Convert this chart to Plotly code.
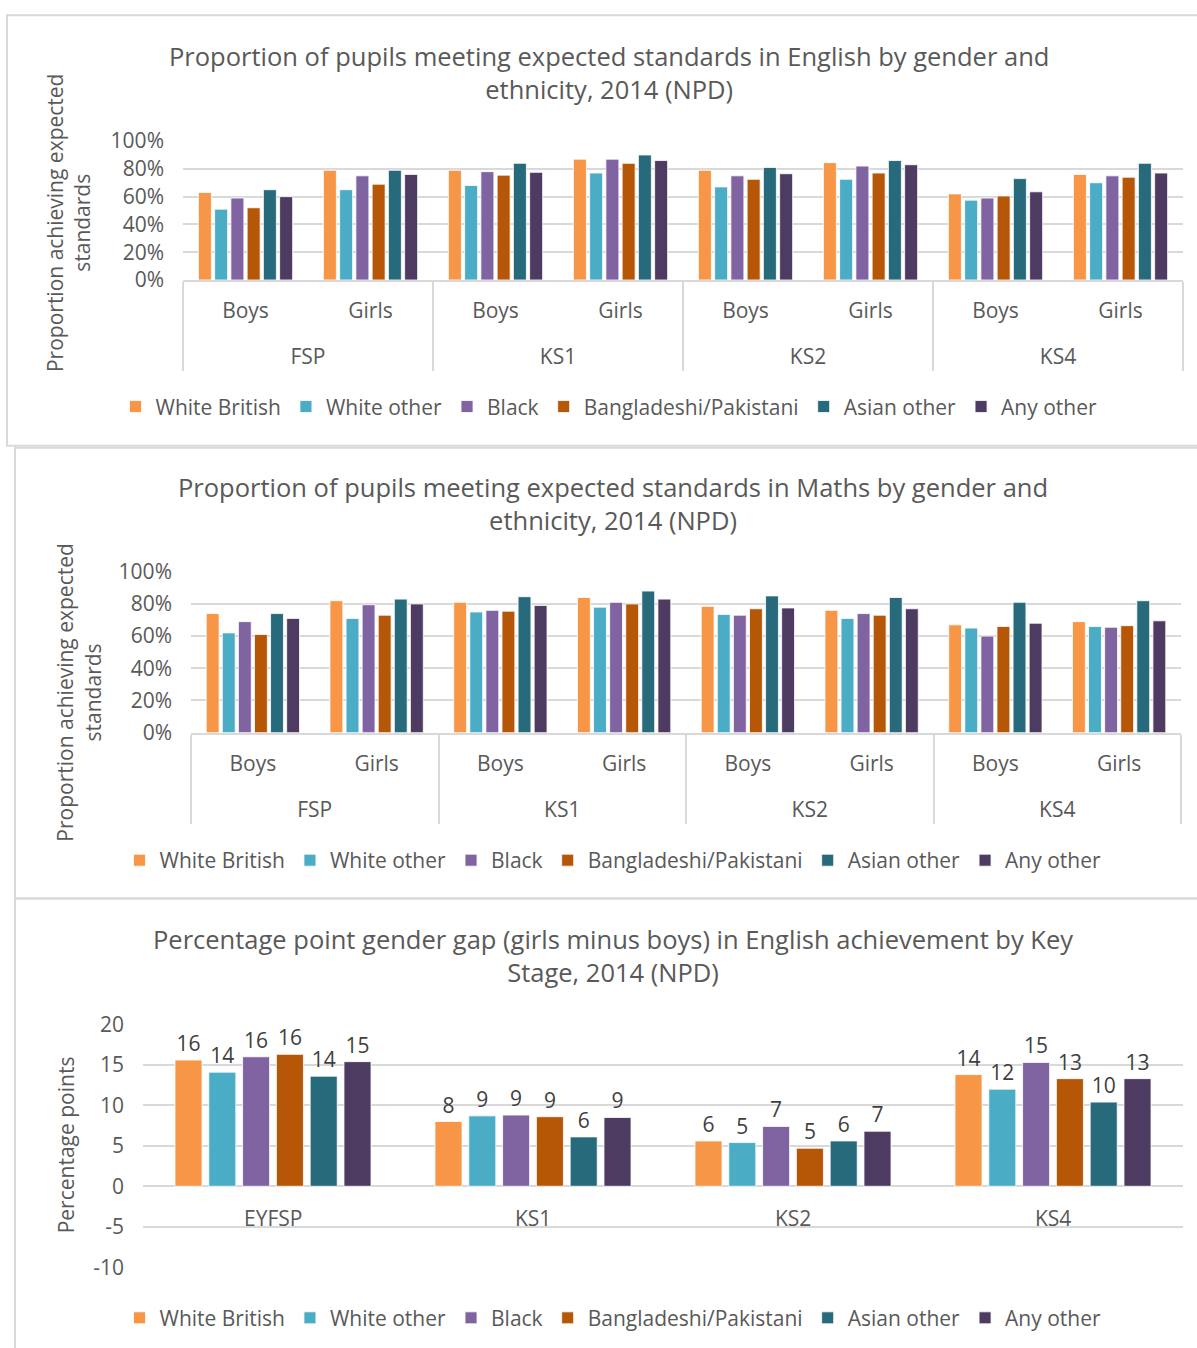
import plotly.graph_objects as go

W, H = 1197, 1348

# ---------------- data ----------------
ethnicities = ["White British", "White other", "Black", "Bangladeshi/Pakistani", "Asian other", "Any other"]
colors = ["#F79646", "#4BACC6", "#8064A2", "#B65708", "#276A7C", "#4D3B62"]

stages = ["FSP", "FSP", "KS1", "KS1", "KS2", "KS2", "KS4", "KS4"]
genders = ["Boys", "Girls", "Boys", "Girls", "Boys", "Girls", "Boys", "Girls"]

# English, % meeting expected standards (order: FSP B, FSP G, KS1 B, KS1 G, KS2 B, KS2 G, KS4 B, KS4 G)
eng_white_british = [63, 79, 79, 87, 79, 84.5, 62, 76]
eng_white_other   = [51, 65, 68, 77, 67, 72.5, 57.5, 70]
eng_black         = [59, 75, 78, 87, 75, 82, 59, 75]
eng_bang_pak      = [52, 69, 75.5, 84, 72.5, 77, 60.5, 74]
eng_asian_other   = [65, 79, 84, 90, 81, 86, 73, 84]
eng_any_other     = [60, 76, 77.5, 86, 76.5, 83, 63.5, 77]

# Maths
mat_white_british = [74, 82, 81, 84, 78.5, 76, 67, 69]
mat_white_other   = [62, 71, 75, 78, 73.5, 71, 65, 66]
mat_black         = [69, 79.5, 76, 81, 73, 74, 60, 65.5]
mat_bang_pak      = [61, 73, 75.5, 80, 77, 73, 66, 66.5]
mat_asian_other   = [74, 83, 84.5, 88, 85, 84, 81, 82]
mat_any_other     = [71, 80, 79, 83, 77.5, 77, 68, 69.5]

# Gender gap (girls minus boys), percentage points
gap_stages = ["EYFSP", "KS1", "KS2", "KS4"]
gap_white_british = [15.6, 8.0, 5.6, 13.8]
gap_white_other   = [14.1, 8.7, 5.4, 12.0]
gap_black         = [16.0, 8.8, 7.4, 15.3]
gap_bang_pak      = [16.3, 8.6, 4.7, 13.3]
gap_asian_other   = [13.6, 6.1, 5.6, 10.4]
gap_any_other     = [15.4, 8.5, 6.8, 13.3]

gap_tickvals = [-10, -5, 0, 5, 10, 15, 20]
gap_ticktext = ["-10", "-5", "0", "5", "10", "15", "20"]

eng = [eng_white_british, eng_white_other, eng_black, eng_bang_pak, eng_asian_other, eng_any_other]
mat = [mat_white_british, mat_white_other, mat_black, mat_bang_pak, mat_asian_other, mat_any_other]
gap = [gap_white_british, gap_white_other, gap_black, gap_bang_pak, gap_asian_other, gap_any_other]

titles = [
    "Proportion of pupils meeting expected standards in English by gender and<br>ethnicity, 2014 (NPD)",
    "Proportion of pupils meeting expected standards in Maths by gender and<br>ethnicity, 2014 (NPD)",
    "Percentage point gender gap (girls minus boys) in English achievement by Key<br>Stage, 2014 (NPD)",
]

# ---------------- layout helpers ----------------
def fx(p):
    return p / W

def fy(p):
    q = (p - 13.8) / 0.98
    return 1 - q / H

FONT = "Open Sans, Segoe UI, Calibri, sans-serif"
TXT = "#595959"
GRID = "#D9D9D9"
FS = 21

# outer-level labels get an empty first line so they sit lower, as in the original
stage_labels = ["<br>" + s for s in stages]

fig = go.Figure()

line = dict(color="rgba(255,255,255,0.8)", width=1)
for i, name in enumerate(ethnicities):
    fig.add_trace(go.Bar(x=[stage_labels, genders], y=eng[i], name=name, marker_color=colors[i],
                         marker_line=line, xaxis="x", yaxis="y", legend="legend"))
for i, name in enumerate(ethnicities):
    fig.add_trace(go.Bar(x=[stage_labels, genders], y=mat[i], name=name, marker_color=colors[i],
                         marker_line=line, xaxis="x2", yaxis="y2", legend="legend2"))
for i, name in enumerate(ethnicities):
    fig.add_trace(go.Bar(
        x=gap_stages, y=gap[i], name=name, marker_color=colors[i], marker_line=line,
        texttemplate="%{y:.0f}", textposition="outside", cliponaxis=False,
        textfont=dict(size=FS, color="#404040", family=FONT),
        xaxis="x3", yaxis="y3", legend="legend3"))

tickfont = dict(size=FS, color=TXT, family=FONT)

def xcat(dom, anchor):
    return dict(domain=[fx(dom[0]), fx(dom[1])], anchor=anchor, type="multicategory",
                showline=True, linecolor=GRID, linewidth=2, showdividers=True,
                dividercolor=GRID, dividerwidth=2, tickfont=tickfont, ticks="",
                ticklabelstandoff=11, showgrid=False)

def ypct(dom, anchor):
    return dict(domain=[fy(dom[1]), fy(dom[0])], anchor=anchor, range=[0, 100],
                dtick=20, ticksuffix="%", showgrid=True, gridcolor=GRID, gridwidth=2,
                zeroline=False, showline=False, tickfont=tickfont, ticklabelstandoff=18)

layout = dict(
    width=W, height=H, margin=dict(l=0, r=0, t=0, b=0),
    paper_bgcolor="white", plot_bgcolor="white",
    barmode="group", bargap=0.22, bargroupgap=0.2,
    font=dict(family=FONT, color=TXT),
    xaxis=xcat((183, 1183), "y"),
    yaxis=ypct((140, 279), "x"),
    xaxis2=xcat((191, 1181), "y2"),
    yaxis2=ypct((571, 732), "x2"),
    xaxis3=dict(domain=[fx(143), fx(1183)], anchor="y3", showticklabels=False,
                showline=False, showgrid=False, ticks=""),
    yaxis3=dict(domain=[fy(1267), fy(1024)], anchor="x3", range=[-10, 20],
                tickvals=gap_tickvals, ticktext=gap_ticktext,
                showgrid=True, gridcolor=GRID, gridwidth=2, zeroline=True,
                zerolinecolor=GRID, zerolinewidth=2, tickfont=tickfont,
                ticklabelstandoff=18),
)

for lg, ypix, xpix in [("legend", 406, 609), ("legend2", 860, 613), ("legend3", 1318, 613)]:
    layout[lg] = dict(orientation="h", x=fx(xpix), xanchor="center", y=fy(ypix),
                      yanchor="middle", font=dict(size=FS, color=TXT, family=FONT),
                      bgcolor="rgba(0,0,0,0)", itemclick=False, itemwidth=30)

fig.update_layout(**layout)

# panel frames
for (x0, y0, x1, y1) in [(7, 14, 1199, 445), (15, 447, 1199, 898), (15, 898, 1199, 1352)]:
    fig.add_shape(type="rect", xref="paper", yref="paper",
                  x0=fx(x0), x1=fx(x1), y0=fy(y1), y1=fy(y0),
                  line=dict(color="#D9D9D9", width=2), layer="below")

# titles
for t, ypix, xpix in zip(titles, [71, 503, 955], [609, 613, 613]):
    fig.add_annotation(text=t, xref="paper", yref="paper", x=fx(xpix), y=fy(ypix),
                       xanchor="center", yanchor="middle", showarrow=False,
                       font=dict(size=25.5, color=TXT, family=FONT))

# y-axis titles
for t, xpix, ypix in [("Proportion achieving expected<br>standards", 68, 222),
                      ("Proportion achieving expected<br>standards", 79, 692),
                      ("Percentage points", 66, 1145)]:
    fig.add_annotation(text=t, xref="paper", yref="paper", x=fx(xpix), y=fy(ypix),
                       xanchor="center", yanchor="middle", showarrow=False, textangle=-90,
                       font=dict(size=FS, color=TXT, family=FONT))

# category labels for the gap panel (sit just under zero line)
for c in gap_stages:
    fig.add_annotation(text=c, xref="x3", yref="y3", x=c, y=0, yanchor="top",
                       yshift=-16, showarrow=False, font=tickfont)

fig.write_html("out.html", config={"displayModeBar": False},
               post_script="document.body.style.margin='0';")
